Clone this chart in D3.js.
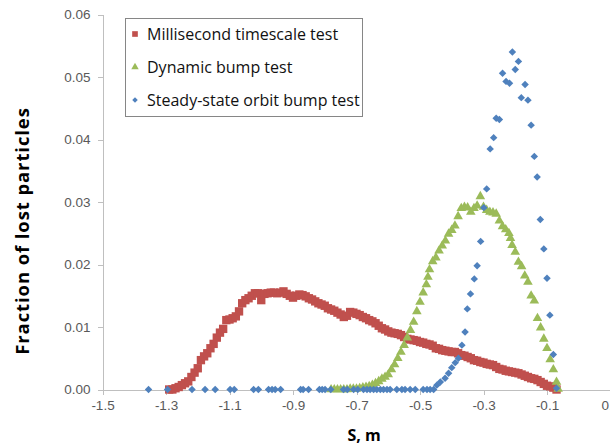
<!DOCTYPE html>
<meta charset="utf-8">
<style>
    body {
        margin: 0;
        background: #fff;
    }
    svg {
        font-family: "Open Sans", sans-serif;
    }
    .axis path,
    .axis line {
        fill: none;
        stroke: #bfbfbf;
        shape-rendering: crispEdges;
    }
    .axis text {
        fill: #595959;
        font-size: 13.5px;
    }
</style>
<body>
<script src="https://cdn.jsdelivr.net/npm/d3@7"></script>
<script>
    // tick values
    const xTicks = [-1.5, -1.3, -1.1, -0.9, -0.7, -0.5, -0.3, -0.1, 0.1];
    const yTicks = [0, 0.01, 0.02, 0.03, 0.04, 0.05, 0.06];

    const seriesNames = ["Millisecond timescale test", "Dynamic bump test", "Steady-state orbit bump test"];

    // [S (m), fraction of lost particles]
    const millisecondData = [
        [-1.29,0.0000],[-1.28,0.0000],[-1.27,0.0002],[-1.26,0.0004],[-1.25,0.0007],[-1.24,0.0010],[-1.23,0.0013],
        [-1.22,0.0020],[-1.21,0.0027],[-1.20,0.0034],[-1.19,0.0047],[-1.18,0.0053],[-1.17,0.0058],[-1.16,0.0066],
        [-1.15,0.0073],[-1.14,0.0083],[-1.13,0.0091],[-1.12,0.0097],[-1.11,0.0111],[-1.10,0.0112],[-1.09,0.0114],
        [-1.08,0.0117],[-1.07,0.0125],[-1.06,0.0138],[-1.05,0.0143],[-1.04,0.0146],[-1.03,0.0150],[-1.02,0.0154],
        [-1.01,0.0154],[-1.00,0.0143],[-0.99,0.0153],[-0.98,0.0154],[-0.97,0.0155],[-0.96,0.0155],[-0.95,0.0154],
        [-0.94,0.0155],[-0.93,0.0157],[-0.92,0.0153],[-0.91,0.0150],[-0.90,0.0147],[-0.89,0.0150],[-0.88,0.0152],
        [-0.87,0.0151],[-0.86,0.0149],[-0.85,0.0146],[-0.84,0.0144],[-0.83,0.0141],[-0.82,0.0138],[-0.81,0.0136],
        [-0.80,0.0134],[-0.79,0.0130],[-0.78,0.0128],[-0.77,0.0126],[-0.76,0.0123],[-0.75,0.0120],[-0.74,0.0116],
        [-0.73,0.0118],[-0.72,0.0124],[-0.71,0.0123],[-0.70,0.0121],[-0.69,0.0119],[-0.68,0.0116],[-0.67,0.0114],
        [-0.66,0.0111],[-0.65,0.0109],[-0.64,0.0106],[-0.63,0.0102],[-0.62,0.0098],[-0.61,0.0096],[-0.60,0.0093],
        [-0.59,0.0091],[-0.58,0.0090],[-0.57,0.0089],[-0.56,0.0087],[-0.55,0.0084],[-0.54,0.0081],[-0.53,0.0080],
        [-0.52,0.0079],[-0.51,0.0078],[-0.50,0.0076],[-0.49,0.0075],[-0.48,0.0073],[-0.47,0.0072],[-0.46,0.0070],
        [-0.45,0.0066],[-0.44,0.0065],[-0.43,0.0063],[-0.42,0.0062],[-0.41,0.0061],[-0.40,0.0060],[-0.39,0.0060],
        [-0.38,0.0058],[-0.37,0.0055],[-0.36,0.0054],[-0.35,0.0052],[-0.34,0.0050],[-0.33,0.0047],[-0.32,0.0046],
        [-0.31,0.0044],[-0.30,0.0043],[-0.29,0.0041],[-0.28,0.0040],[-0.27,0.0039],[-0.26,0.0036],[-0.25,0.0033],
        [-0.24,0.0032],[-0.23,0.0030],[-0.22,0.0029],[-0.21,0.0028],[-0.20,0.0027],[-0.19,0.0026],[-0.18,0.0024],
        [-0.17,0.0022],[-0.16,0.0020],[-0.15,0.0018],[-0.14,0.0017],[-0.13,0.0015],[-0.12,0.0012],[-0.11,0.0009],
        [-0.10,0.0006],[-0.09,0.0005],[-0.08,0.0003],[-0.07,0.0000]
    ];

    const dynamicData = [
        [-0.78,0],[-0.77,0],[-0.76,0],[-0.75,0],[-0.74,0],[-0.73,0],[-0.72,0.0001],[-0.71,0.0001],[-0.70,0.0001],
        [-0.69,0.0002],[-0.68,0.0003],[-0.67,0.0004],[-0.66,0.0005],[-0.65,0.0007],[-0.64,0.0010],[-0.63,0.0013],
        [-0.62,0.0017],[-0.61,0.0020],[-0.60,0.0024],[-0.59,0.0032],[-0.58,0.0040],[-0.57,0.0050],[-0.56,0.0060],
        [-0.55,0.0071],[-0.54,0.0083],[-0.53,0.0095],[-0.52,0.0108],[-0.51,0.0125],[-0.50,0.0140],[-0.49,0.0155],
        [-0.48,0.0168],[-0.475,0.0180],[-0.47,0.0192],[-0.46,0.0205],[-0.45,0.0211],[-0.44,0.0222],[-0.43,0.0230],
        [-0.42,0.0238],[-0.41,0.0249],[-0.40,0.0255],[-0.39,0.0262],[-0.38,0.0277],[-0.37,0.0290],[-0.36,0.0292],
        [-0.35,0.0291],[-0.34,0.0284],[-0.33,0.0290],[-0.32,0.0294],[-0.31,0.0309],[-0.30,0.0292],[-0.29,0.0287],
        [-0.28,0.0284],[-0.27,0.0283],[-0.26,0.0281],[-0.25,0.0270],[-0.24,0.0261],[-0.23,0.0256],[-0.22,0.0250],
        [-0.215,0.0242],[-0.21,0.0231],[-0.20,0.0220],[-0.19,0.0204],[-0.18,0.0197],[-0.17,0.0182],[-0.16,0.0172],
        [-0.15,0.0150],[-0.14,0.0142],[-0.13,0.0114],[-0.12,0.0099],[-0.11,0.0081],[-0.10,0.0066],[-0.09,0.0048],
        [-0.08,0.0032],[-0.07,0.0012],[-0.065,0.0001]
    ];

    const steadyData = [
        [-1.355,0],[-1.295,0],[-1.218,0],[-1.177,0],[-1.145,0],[-1.098,0],[-1.085,0],[-1.024,0],[-1.009,0],
        [-0.977,0],[-0.966,0],[-0.956,0],[-0.939,0],[-0.876,0],[-0.868,0],[-0.851,0],[-0.817,0],[-0.808,0],
        [-0.799,0],[-0.781,0],[-0.741,0],[-0.729,0],[-0.709,0],[-0.696,0],[-0.678,0],[-0.667,0],[-0.657,0],
        [-0.646,0],[-0.636,0],[-0.625,0],[-0.615,0],[-0.604,0],[-0.594,0],[-0.573,0],[-0.557,0],[-0.547,0],
        [-0.531,0],[-0.515,0],[-0.490,0],[-0.478,0],[-0.468,0],[-0.457,0],
        [-0.447,0.0007],[-0.436,0.0012],[-0.421,0.0018],[-0.410,0.0026],[-0.400,0.0035],[-0.389,0.0043],
        [-0.379,0.0050],[-0.368,0.0071],[-0.358,0.0092],[-0.351,0.0129],[-0.341,0.0153],[-0.329,0.0177],
        [-0.320,0.0198],[-0.309,0.0237],[-0.299,0.0291],[-0.290,0.0321],[-0.279,0.0385],[-0.268,0.0403],
        [-0.260,0.0434],[-0.250,0.0432],[-0.240,0.0506],[-0.229,0.0493],[-0.218,0.0490],[-0.209,0.0540],
        [-0.200,0.0512],[-0.190,0.0525],[-0.181,0.0467],[-0.169,0.0488],[-0.160,0.0463],[-0.150,0.0423],
        [-0.140,0.0373],[-0.131,0.0340],[-0.121,0.0272],[-0.110,0.0225],[-0.100,0.0178],[-0.091,0.0119],
        [-0.080,0.0056],[-0.070,0.0002]
    ];

    const width = 610;
    const height = 446;

    const svg = d3.select('body')
        .append('svg')
        .attr('width', width)
        .attr('height', height);

    const x = d3.scaleLinear().domain([-1.5, 0.1]).range([102.5, 610.5]);
    const y = d3.scaleLinear().domain([0, 0.06]).range([389.5, 14.5]);

    // x axis
    svg.append('g')
        .attr('class', 'x axis')
        .attr('transform', 'translate(0,' + y(0) + ')')
        .call(d3.axisBottom(x).tickValues(xTicks).tickSize(5).tickSizeOuter(0).tickPadding(6)
            .tickFormat(d => d.toFixed(1)));

    // y axis
    svg.append('g')
        .attr('class', 'y axis')
        .attr('transform', 'translate(' + x(-1.5) + ',0)')
        .call(d3.axisLeft(y).tickValues(yTicks).tickSize(5).tickSizeOuter(0).tickPadding(7)
            .tickFormat(d => d.toFixed(2)));

    // axis titles
    svg.append('text')
        .attr('transform', 'translate(23,231) rotate(-90)')
        .attr('text-anchor', 'middle')
        .attr('dy', '0.35em')
        .style('font-weight', 'bold')
        .style('font-size', '18.5px')
        .style('letter-spacing', '0.9px')
        .text('Fraction of lost particles');

    svg.append('text')
        .attr('x', 364)
        .attr('y', 435)
        .attr('text-anchor', 'middle')
        .attr('dy', '0.35em')
        .style('font-weight', 'bold')
        .style('font-size', '16px')
        .text('S, m');

    // marker shapes
    const square = d3.symbol().type(d3.symbolSquare).size(70)();
    const triangle = d3.symbol().type(d3.symbolTriangle).size(40)();
    const diamond = d3.symbol().type(d3.symbolSquare).size(28)();

    const series = [
        {name: seriesNames[0], data: millisecondData, color: '#C0504D', path: square, rot: 0},
        {name: seriesNames[1], data: dynamicData, color: '#9BBB59', path: triangle, rot: 0},
        {name: seriesNames[2], data: steadyData, color: '#4F81BD', path: diamond, rot: 45}
    ];

    series.forEach(s => {
        svg.append('g')
            .selectAll('path')
            .data(s.data)
            .enter().append('path')
            .attr('d', s.path)
            .attr('transform', d => 'translate(' + x(d[0]) + ',' + y(d[1]) + ') rotate(' + s.rot + ')')
            .style('fill', s.color);
    });

    // legend
    const legend = svg.append('g').attr('class', 'legend');
    legend.append('rect')
        .attr('x', 125.5)
        .attr('y', 18.5)
        .attr('width', 237)
        .attr('height', 98)
        .style('fill', '#fff')
        .style('stroke', '#868686');

    const legendShapes = [
        d3.symbol().type(d3.symbolSquare).size(32)(),
        d3.symbol().type(d3.symbolTriangle).size(24)(),
        d3.symbol().type(d3.symbolSquare).size(15)()
    ];

    const item = legend.selectAll('.item')
        .data(series)
        .enter().append('g')
        .attr('class', 'item')
        .attr('transform', (d, i) => 'translate(135,' + (34 + i * 33) + ')');

    item.append('path')
        .attr('d', (d, i) => legendShapes[i])
        .attr('transform', d => 'rotate(' + d.rot + ')')
        .style('fill', d => d.color);

    item.append('text')
        .attr('x', 12)
        .attr('dy', '0.35em')
        .style('font-size', '16px')
        .style('fill', '#111')
        .text(d => d.name);
</script>
</body>
</html>
